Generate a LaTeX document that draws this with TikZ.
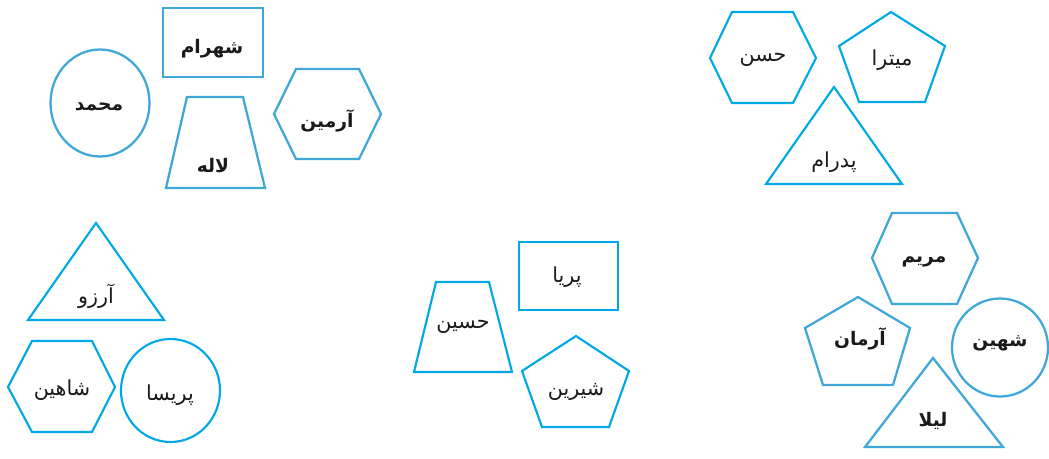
\documentclass[tikz,border=0pt]{standalone}
\usepackage{fontspec}
\newfontfamily\arabicfont[Script=Arabic]{DejaVu Sans}
\TeXXeTstate=1
\definecolor{brightblue}{HTML}{00A8E6}
\definecolor{dullblue}{HTML}{40A8D8}
\definecolor{txt}{HTML}{1A1A1A}
\tikzset{
  shapeA/.style={draw=brightblue, line width=1.6pt, line join=miter},
  shapeB/.style={draw=dullblue, line width=1.7pt, line join=miter},
  lblA/.style={font=\arabicfont\fontsize{15.5}{17}\selectfont, text=txt, inner sep=0pt, yshift=-2pt},
  lblB/.style={font=\arabicfont\bfseries\fontsize{14}{16}\selectfont, text=txt, inner sep=0pt, yshift=-2pt},
}
\newcommand{\fa}[1]{\beginR #1\endR}
\begin{document}
\begin{tikzpicture}[x=0.75pt,y=-0.75pt]
\useasboundingbox (0,0) rectangle (1049,458);

% ---- top-left group (bold) ----
\draw[shapeB] (163,8) rectangle (263,77);
\draw[shapeB] (100,103) ellipse [x radius=49.5, y radius=53.5];
\draw[shapeB] (187,97) -- (243,97) -- (265,188) -- (166,188) -- cycle;
\draw[shapeB] (296,69) -- (359,69) -- (381,114) -- (359,159) -- (296,159) -- (274,114) -- cycle;
\node[lblB] (shahram) at (212,46) {\fa{شهرام}};
\node[lblB] (mohammad) at (99,104) {\fa{محمد}};
\node[lblB] (laleh) at (213,163) {\fa{لاله}};
\node[lblB] (armin) at (327,118) {\fa{آرمین}};

% ---- top-right group ----
\draw[shapeA] (732,12) -- (793,12) -- (816,58) -- (793,103) -- (732,103) -- (710,58) -- cycle;
\draw[shapeA] (891,12) -- (945,46) -- (925,102) -- (859,102) -- (839,46) -- cycle;
\draw[shapeA] (834,87) -- (902,184) -- (766,184) -- cycle;
\node[lblA] (hasan) at (763,57) {\fa{حسن}};
\node[lblA] (mitra) at (892,57) {\fa{میترا}};
\node[lblA] (pedram) at (834,159) {\fa{پدرام}};

% ---- bottom-left group ----
\draw[shapeA] (96,223) -- (164,320) -- (28,320) -- cycle;
\draw[shapeA] (32,341) -- (92,341) -- (115,387) -- (92,432) -- (32,432) -- (8,387) -- cycle;
\draw[shapeA] (170.5,390.5) ellipse [x radius=49.5, y radius=51.5];
\node[lblA] (arezoo) at (96,294) {\fa{آرزو}};
\node[lblA] (shahin) at (62,387) {\fa{شاهین}};
\node[lblA] (parisa) at (170,392) {\fa{پریسا}};

% ---- bottom-middle group ----
\draw[shapeA] (519,242) rectangle (618,310);
\draw[shapeA] (436,282) -- (489,282) -- (512,372) -- (414,372) -- cycle;
\draw[shapeA] (576,336) -- (629,371) -- (609,427) -- (542,427) -- (522,371) -- cycle;
\node[lblA] (pariya) at (567,274) {\fa{پریا}};
\node[lblA] (hosein) at (463,324) {\fa{حسین}};
\node[lblA] (shirin) at (576,389) {\fa{شیرین}};

% ---- bottom-right group (bold) ----
\draw[shapeB] (892,213) -- (957,213) -- (978,258) -- (957,304) -- (892,304) -- (872,258) -- cycle;
\draw[shapeB] (858,297) -- (910,328) -- (893,385) -- (823,385) -- (805,328) -- cycle;
\draw[shapeB] (1000,347.5) ellipse [x radius=48, y radius=49];
\draw[shapeB] (933,358) -- (1003,447) -- (865,447) -- cycle;
\node[lblB] (maryam) at (924,259) {\fa{مریم}};
\node[lblB] (arman) at (860,336) {\fa{آرمان}};
\node[lblB] (shahin2) at (1000,341) {\fa{شهین}};
\node[lblB] (leila) at (933,418) {\fa{لیلا}};
\end{tikzpicture}
\end{document}
